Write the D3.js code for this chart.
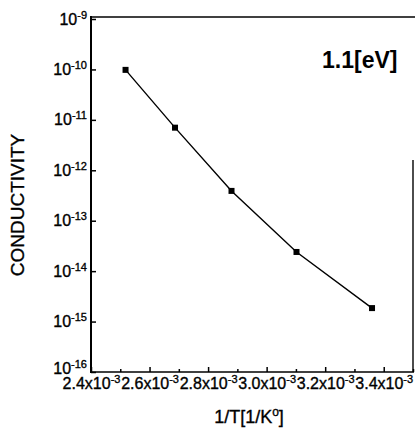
<!DOCTYPE html>
<html><head><meta charset="utf-8">
<script src="https://cdn.jsdelivr.net/npm/d3@7"></script>
<style>
body{margin:0;background:#fff}
svg{display:block}
text{font-family:Arial,"Liberation Sans",sans-serif;fill:#000;stroke:#000;stroke-width:0.35px}
</style>
</head><body>
<svg id="c" width="415" height="430"></svg>
<script>
// ---- data ----
const invT = [2.518e-3, 2.687e-3, 2.880e-3, 3.102e-3, 3.360e-3];
const conductivity = [9.8e-11, 7.0e-12, 3.9e-13, 2.4e-14, 1.85e-15];
const xMinorTicks = [2.5e-3, 2.7e-3, 2.9e-3, 3.1e-3, 3.3e-3, 3.5e-3];
const xMajorTicks = [2.4e-3, 2.6e-3, 2.8e-3, 3.0e-3, 3.2e-3, 3.4e-3];
const xTickLabels = ["2.4x10", "2.6x10", "2.8x10", "3.0x10", "3.2x10", "3.4x10"];
const xTickExp = "-3";
const yTicks = [1e-16, 1e-15, 1e-14, 1e-13, 1e-12, 1e-11, 1e-10, 1e-9];
const yTickExps = ["-16", "-15", "-14", "-13", "-12", "-11", "-10", "-9"];
const xTitleParts = ["1/T[1/K", "o", "]"];
const yTitle = "CONDUCTIVITY";
const annotation = "1.1[eV]";

// ---- layout ----
const L = 91, R = 413, T = 19, B = 372;
const svg = d3.select("#c");
const x = d3.scaleLinear().domain([2.4e-3, 3.5e-3]).range([L, R]);
const y = d3.scaleLog().domain([1e-16, 1e-9]).range([B, T]);

// frame
const frame = svg.append("g").attr("stroke", "#000").attr("fill", "none");
frame.append("line").attr("x1", L).attr("x2", L).attr("y1", T - 3).attr("y2", B + 1).attr("stroke-width", 2);
frame.append("line").attr("x1", L - 1).attr("x2", 415).attr("y1", T - 2).attr("y2", T - 2).attr("stroke-width", 1.6);
frame.append("line").attr("x1", L - 1).attr("x2", R + 1).attr("y1", B).attr("y2", B).attr("stroke-width", 1.6);
frame.append("line").attr("x1", R).attr("x2", R).attr("y1", 160).attr("y2", B).attr("stroke-width", 1.4);

// x axis: minor ticks
const gxMinor = svg.append("g").attr("transform", `translate(0,${B})`)
  .call(d3.axisBottom(x).tickValues(xMinorTicks).tickSize(-3).tickSizeOuter(0).tickFormat(""));
gxMinor.select(".domain").remove();
// x axis: major ticks + labels
const gx = svg.append("g").attr("transform", `translate(0,${B})`)
  .call(d3.axisBottom(x).tickValues(xMajorTicks).tickSize(-5).tickSizeOuter(0).tickPadding(6).tickFormat((d, i) => xTickLabels[i]));
gx.select(".domain").remove();
gx.selectAll(".tick text").each(function(d, i) {
  const t = d3.select(this);
  t.text(null).attr("font-size", 16).attr("font-family", "Arial, 'Liberation Sans', sans-serif");
  t.append("tspan").text(xTickLabels[i]);
  t.append("tspan").attr("font-size", 11).attr("dy", "-6").text(xTickExp);
});
svg.selectAll(".tick line").attr("stroke", "#000").attr("stroke-width", 1.5);

// y axis
const gy = svg.append("g").attr("transform", `translate(${L},0)`)
  .call(d3.axisLeft(y).tickValues(yTicks).tickSize(-5).tickSizeOuter(0).tickPadding(4).tickFormat(() => "10"));
gy.select(".domain").remove();
gy.selectAll(".tick line").attr("stroke", "#000").attr("stroke-width", 1.5);
gy.selectAll(".tick text").each(function(d, i) {
  const t = d3.select(this);
  t.text(null).attr("font-size", 16).attr("font-family", "Arial, 'Liberation Sans', sans-serif");
  t.append("tspan").text("10");
  t.append("tspan").attr("font-size", 11).attr("dy", "-6").text(yTickExps[i]);
});
// keep the lowest y label clear of the first x label
gy.selectAll(".tick").filter(d => d === 1e-16).select("text").attr("dy", "0.1em");

// data line + markers
const pts = invT.map((v, i) => [v, conductivity[i]]);
svg.append("path").datum(pts)
  .attr("fill", "none").attr("stroke", "#000").attr("stroke-width", 1.4)
  .attr("d", d3.line().x(d => x(d[0])).y(d => y(d[1])));
svg.append("g").selectAll("rect").data(pts).join("rect")
  .attr("x", d => x(d[0]) - 3).attr("y", d => y(d[1]) - 3)
  .attr("width", 6).attr("height", 6).attr("fill", "#000");

// titles
const xt = svg.append("text").attr("x", (L + R) / 2 - 3).attr("y", 423)
  .attr("text-anchor", "middle").attr("font-size", 18);
xt.append("tspan").text(xTitleParts[0]);
xt.append("tspan").attr("font-size", 12).attr("dy", -7).text(xTitleParts[1]);
xt.append("tspan").attr("dy", 7).text(xTitleParts[2]);

svg.append("text").attr("transform", `translate(24,${205}) rotate(-90)`)
  .attr("text-anchor", "middle").attr("font-size", 19).text(yTitle);

svg.append("text").attr("x", 322).attr("y", 68).attr("font-size", 23)
  .attr("font-weight", "bold").style("stroke-width", "0px").text(annotation);
</script>
</body></html>
